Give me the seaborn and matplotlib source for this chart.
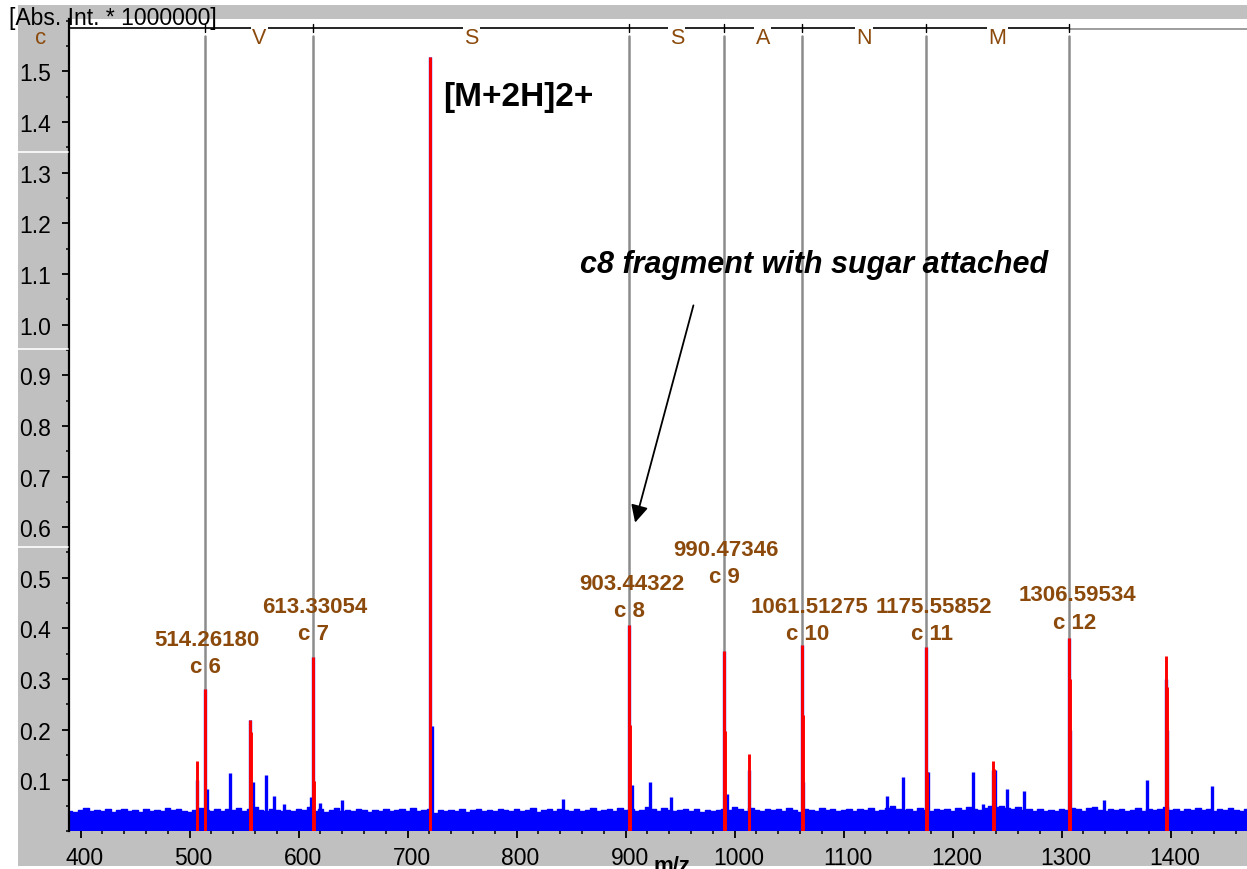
import numpy as np
import matplotlib
matplotlib.use("Agg")
import matplotlib.pyplot as plt
import matplotlib.transforms as mtransforms
import seaborn as sns
from matplotlib.patches import Rectangle
from matplotlib.lines import Line2D
from matplotlib.ticker import MultipleLocator, FormatStrFormatter

# ---------------- data ----------------
noise_start = 390
noise_step = 5
noise_level = [
    .040, .038, .041, .045, .039, .042, .040, .044, .037, .041,
    .043, .039, .041, .038, .044, .040, .042, .039, .046, .041,
    .043, .040, .038, .042, .045, .041, .040, .044, .039, .043,
    .041, .045, .040, .043, .048, .042, .039, .044, .041, .040,
    .042, .039, .044, .041, .047, .040, .043, .038, .041, .045,
    .040, .042, .039, .043, .041, .038, .042, .040, .044, .039,
    .041, .043, .039, .045, .040, .042, .044, .036, .041, .039,
    .042, .040, .044, .038, .041, .043, .039, .042, .040, .044,
    .041, .039, .043, .040, .042, .045, .038, .041, .043, .040,
    .044, .041, .039, .043, .040, .042, .045, .039, .041, .043,
    .040, .046, .042, .044, .039, .041, .047, .043, .040, .045,
    .042, .039, .041, .044, .040, .043, .038, .041, .039, .042,
    .044, .041, .047, .043, .040, .045, .042, .039, .044, .041,
    .043, .040, .045, .041, .038, .044, .042, .040, .046, .041,
    .043, .039, .042, .044, .040, .043, .041, .045, .039, .042,
    .046, .050, .044, .041, .043, .040, .045, .042, .039, .044,
    .041, .043, .040, .045, .042, .048, .044, .041, .046, .049,
    .047, .050, .045, .043, .048, .041, .044, .040, .043, .039,
    .042, .040, .044, .041, .046, .043, .039, .045, .048, .042,
    .040, .044, .041, .043, .039, .042, .045, .040, .044, .041,
    .043, .047, .041, .044, .040, .043, .041, .045, .042, .044,
    .040, .043, .041, .045, .042, .040, .043,
]

# profile (blue) peaks
blue_mz = [507.1, 514.3, 516.0, 537.2, 555.6, 558.3, 570.2, 577.5, 586.8,
           611.5, 613.4, 619.7, 639.6, 720.1, 722.8, 843.0, 903.4, 905.7,
           922.5, 942.0, 990.5, 992.8, 1012.9, 1061.5, 1063.1, 1139.6,
           1154.9, 1175.6, 1177.8, 1219.1, 1227.7, 1237.2, 1238.8, 1249.7,
           1265.0, 1306.6, 1308.0, 1339.0, 1378.1, 1395.6, 1397.0, 1438.3]
blue_int = [0.10, 0.280, 0.083, 0.114, 0.219, 0.096, 0.110, 0.069, 0.053,
            0.067, 0.343, 0.055, 0.061, 1.529, 0.208, 0.064, 0.406, 0.090,
            0.097, 0.067, 0.355, 0.074, 0.12, 0.367, 0.096, 0.069,
            0.106, 0.363, 0.117, 0.117, 0.053, 0.12, 0.12, 0.082,
            0.079, 0.382, 0.20, 0.061, 0.100, 0.30, 0.20, 0.088]

# centroid (red) sticks
red_mz = [507.1, 514.3, 555.6, 556.8, 613.4, 614.4, 720.1, 903.4, 904.4,
          990.5, 991.5, 1012.9, 1061.5, 1062.5, 1175.6, 1176.6, 1237.2,
          1238.2, 1306.6, 1307.6, 1395.6, 1396.6]
red_int = [0.138, 0.280, 0.219, 0.195, 0.343, 0.098, 1.529, 0.406, 0.21,
           0.355, 0.197, 0.153, 0.367, 0.23, 0.363, 0.116, 0.138,
           0.122, 0.382, 0.300, 0.345, 0.285]

frag_ion = ["6", "7", "8", "9", "10", "11", "12"]
frag_mz = [514.26180, 613.33054, 903.44322, 990.47346, 1061.51275,
           1175.55852, 1306.59534]
frag_int = [0.280, 0.343, 0.406, 0.355, 0.367, 0.363, 0.382]
seq_letters = ["V", "S", "S", "A", "N", "M"]

precursor_label = "[M+2H]2+"
note_label = "c8 fragment with sugar attached"
x_ticks = [400, 500, 600, 700, 800, 900, 1000, 1100, 1200, 1300, 1400]
y_ticks = [0.1, 0.2, 0.3, 0.4, 0.5, 0.6, 0.7, 0.8, 0.9, 1.0,
           1.1, 1.2, 1.3, 1.4, 1.5]

# ---------------- layout / style ----------------
BROWN = "#8B4A0C"
GREY = "#8C8C8C"
PANEL = "#C0C0C0"
W, H = 1247, 870

sns.set_theme(style="white")
plt.rcParams["font.family"] = ["Liberation Sans", "DejaVu Sans"]

fig = plt.figure(figsize=(W / 100, H / 100), dpi=100)
fig.patch.set_facecolor("white")

# grey panel behind everything
fig.patches.append(Rectangle((18 / W, 1 - 867 / H), (W - 18) / W, (867 - 6) / H,
                             transform=fig.transFigure, facecolor=PANEL,
                             edgecolor="none", zorder=-1))
for yp in (152.7, 350, 548):
    fig.lines.append(Line2D([18 / W, 68 / W], [1 - yp / H, 1 - yp / H],
                            transform=fig.transFigure, color="white", lw=1.2,
                            zorder=0.5))

ax = fig.add_axes([69 / W, 1 - 832 / H, (W - 69) / W, (832 - 20) / H])
ax.set_facecolor("white")
ax.set_xlim(389.4, 1470)
ax.set_ylim(0, 1.6035)

# noise floor
noise_mz = noise_start + noise_step * np.arange(len(noise_level))
ax.fill_between(noise_mz, 0, noise_level, step="mid", color="blue", lw=0, zorder=2)
sns.lineplot(x=noise_mz, y=noise_level, drawstyle="steps-mid", color="blue",
             lw=1, ax=ax, zorder=2)

# profile peaks and centroid sticks
ax.vlines(blue_mz, 0, blue_int, color="blue", lw=2.4, zorder=3)
ax.vlines(red_mz, 0, red_int, color="red", lw=2.1, zorder=4)

# sequence ladder at top
seq_y = 1.585
ax.plot([389.4, frag_mz[-1]], [seq_y, seq_y], color="black", lw=1.2, zorder=5,
        clip_on=False)
ax.plot([frag_mz[-1], 1470], [seq_y - 0.002, seq_y - 0.002], color=GREY, lw=1.2,
        zorder=5)
for m in frag_mz:
    ax.plot([m, m], [seq_y - 0.008, seq_y + 0.008], color="black", lw=1.0, zorder=5)
for i, letter in enumerate(seq_letters):
    xm = 0.5 * (frag_mz[i] + frag_mz[i + 1])
    ax.text(xm, 1.5555, letter, color=BROWN, fontsize=15.5, ha="center",
            va="baseline", zorder=6,
            bbox=dict(facecolor="white", edgecolor="none", pad=1.0))

# annotation lines and labels
c_base = [0.3134, 0.3786, 0.4239, 0.4909, 0.3786, 0.3786, 0.4017]
for m, inten, ion, cb in zip(frag_mz, frag_int, frag_ion, c_base):
    ax.plot([m, m], [inten, 1.569], color=GREY, lw=1.8, zorder=3.5)
    ax.annotate(f"c {ion}", xy=(m, cb), xytext=(-11.1, 0),
                textcoords="offset points", ha="left", va="baseline",
                color=BROWN, fontsize=16, fontweight="bold", zorder=7)
    ax.annotate(f"{m:.5f}", xy=(m, cb + 0.054),
                xytext=(4.45 * (len(ion) - 1) + 1.5, 0),
                textcoords="offset points",
                ha="center", va="baseline", color=BROWN, fontsize=16,
                fontweight="bold", zorder=7)

# precursor label
ax.text(732.6, 1.451, precursor_label, fontsize=24, fontweight="bold",
        ha="left", va="center", color="black", zorder=7)

# c8 note with arrow
ax.text(858.3, 1.104, note_label, fontsize=22, fontweight="bold",
        fontstyle="italic", ha="left", va="baseline", color="black", zorder=7)
ax.annotate("", xy=(908.7, 0.609), xytext=(962.2, 1.038),
            arrowprops=dict(arrowstyle="-|>", color="black", lw=1.3,
                            mutation_scale=26, shrinkA=0, shrinkB=0),
            zorder=7)

# axes styling
for s in ("top", "right", "bottom"):
    ax.spines[s].set_visible(False)
ax.spines["left"].set_color("black")
ax.spines["left"].set_linewidth(1.6)
ax.set_xticks(x_ticks)
ax.set_xticklabels([str(t) for t in x_ticks])
ax.xaxis.set_minor_locator(MultipleLocator(20))
ax.set_yticks(y_ticks)
ax.yaxis.set_major_formatter(FormatStrFormatter("%.1f"))
ax.yaxis.set_minor_locator(MultipleLocator(0.05))
ax.tick_params(axis="both", which="major", direction="out", length=5, width=1.3,
               color="black", labelsize=16.5, labelcolor="black")
ax.tick_params(axis="both", which="minor", direction="out", length=2.5,
               width=1.1, color="black")
ax.tick_params(axis="y", which="major", pad=8)
ax.tick_params(axis="x", which="major", pad=6)
ax.tick_params(axis="x", which="both", bottom=True)
ax.tick_params(axis="y", which="both", left=True)
ax.set_xlabel("")
ax.set_ylabel("")
shift = mtransforms.ScaledTranslation(4 / 100, 0, fig.dpi_scale_trans)
for lab in ax.get_xticklabels():
    lab.set_transform(lab.get_transform() + shift)

# figure-level texts
fig.text(9 / W, 1 - 25 / H, "[Abs. Int. * 1000000]", fontsize=16.5, ha="left",
         va="baseline", color="black", zorder=10)
fig.text(41 / W, 1 - 44 / H, "c", fontsize=16, ha="center", va="baseline",
         color=BROWN, zorder=10)
fig.text(672 / W, 1 - 856 / H, "m/z", fontsize=16, fontweight="bold",
         ha="center", va="top", color="black", zorder=10)

fig.savefig("out.png", dpi=100, facecolor=fig.get_facecolor())
